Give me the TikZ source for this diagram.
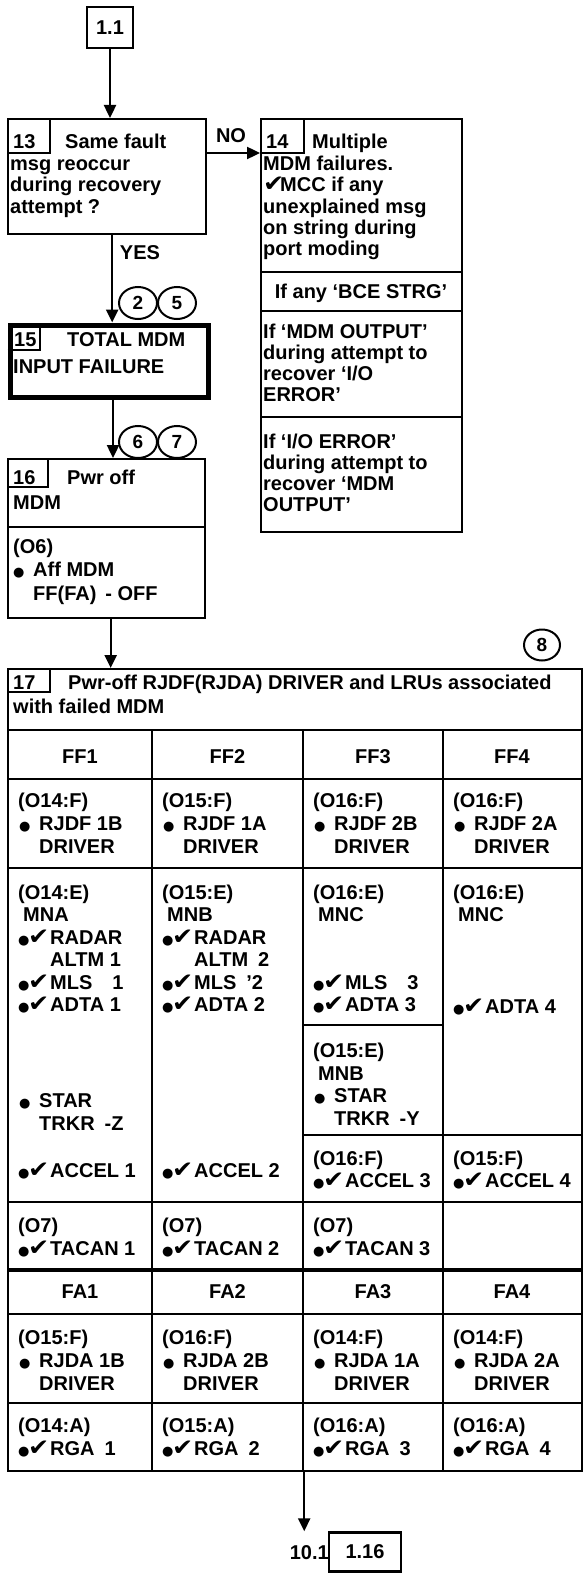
\documentclass[tikz,border=0pt]{standalone}
\usepackage{fontspec}
\usepackage{graphicx}
\setmainfont{Liberation Sans}
\newfontfamily\symf{DejaVu Sans}
\usetikzlibrary{arrows.meta,shapes.geometric}
\newcounter{ln}
\newcommand\Ln[3]{\stepcounter{ln}\node[lbl] (l\theln) at (#1,#2) {#3};}
\newcommand\Lc[3]{\stepcounter{ln}\node[lbl,anchor=base] (l\theln) at (#1,#2) {#3};}
\newcommand\ckg{\scalebox{1.1}[1.0]{\symf\mdseries\fontsize{23}{23}\selectfont ✔}}
\newcommand\ck{\makebox[17pt][l]{\ckg}}
\newcommand\bb{{\symf\mdseries\fontsize{13}{13}\selectfont ●}}
\newcommand\bbx{\makebox[20pt][l]{\bb}}
\newcommand\bc{\makebox[10pt][l]{\bb}\makebox[22pt][l]{\ckg}}
\tikzset{
  lbl/.style={anchor=base west, inner sep=0pt, font=\bfseries\fontsize{20}{22}\selectfont},
  bx/.style={draw, line width=2.4pt, anchor=north west, inner sep=0pt, font=\bfseries\fontsize{20}{22}\selectfont},
  arr/.style={line width=2.4pt, -{Triangle[length=13pt,width=12pt]}},
  circ/.style={ellipse, draw, line width=2pt, minimum width=38pt, minimum height=32pt, inner sep=0pt, font=\bfseries\fontsize{19}{19}\selectfont},
  ln/.style={line width=2.4pt},
  thk/.style={line width=4.8pt},
}
\begin{document}
\begin{tikzpicture}[x=1pt,y=-1pt]
\fill[white] (0,0) rectangle (583,1573);
\path[use as bounding box] (0,0) rectangle (583,1573);

% start connector
\node[bx, line width=2.6pt, anchor=center, minimum width=46pt, minimum height=41pt] (b11) at (110,27.5) {1.1};

% box 13
\node[bx, minimum width=198pt, minimum height=115pt] (b13) at (7,118) {};
\draw[ln] ([yshift=-35pt]b13.north west) -| ([xshift=43pt]b13.north west);
\Ln{13}{149}{13}
\Ln{65}{149}{Same fault}
\Ln{10}{171}{msg reoccur}
\Ln{10}{192}{during recovery}
\Ln{10}{213}{attempt ?}

% box 14
\node[bx, minimum width=201pt, minimum height=413pt] (b14) at (260,118) {};
\draw[ln] ([yshift=-35pt]b14.north west) -| ([xshift=44pt]b14.north west);
\draw[ln] (260,272) -- (461,272);
\draw[ln] (260,311) -- (461,311);
\draw[ln] (260,417) -- (461,417);
\Ln{266}{149}{14}
\Ln{312}{149}{Multiple}
\Ln{263}{171}{MDM failures.}
\Ln{263}{192}{\ck MCC if any}
\Ln{263}{213}{unexplained msg}
\Ln{263}{234}{on string during}
\Ln{263}{255}{port moding}
\Lc{361}{298}{If any ‘BCE STRG’}
\Ln{263}{338}{If ‘MDM OUTPUT’}
\Ln{263}{359}{during attempt to}
\Ln{263}{380}{recover ‘I/O}
\Ln{263}{401}{ERROR’}
\Ln{263}{448}{If ‘I/O ERROR’}
\Ln{263}{469}{during attempt to}
\Ln{263}{490}{recover ‘MDM}
\Ln{263}{511}{OUTPUT’}

% box 15
\node[bx, line width=5pt, minimum width=198pt, minimum height=72pt] (b15) at (7.5,322.5) {};
\draw[ln] ([yshift=-27.5pt]b15.north west) -| ([xshift=32.5pt]b15.north west);
\Ln{14}{346}{15}
\Ln{67}{346}{TOTAL MDM}
\Ln{13}{373}{INPUT FAILURE}

% box 16
\node[bx, minimum width=197pt, minimum height=159pt] (b16) at (7,458) {};
\draw[ln] ([yshift=-29pt]b16.north west) -| ([xshift=41pt]b16.north west);
\draw[ln] (7,527) -- (204,527);
\Ln{13}{484}{16}
\Ln{67}{484}{Pwr off}
\Ln{13}{509}{MDM}
\Ln{13}{553}{(O6)}
\Ln{13}{576}{\bbx Aff MDM}
\Ln{33}{600}{FF(FA) \,- OFF}

% circles
\node[circ] (c2) at (138,303) {2};
\node[circ] (c5) at (177,303) {5};
\node[circ] (c6) at (138,442) {6};
\node[circ] (c7) at (177,442) {7};
\node[circ, minimum width=36pt, minimum height=31pt] (c8) at (542,645) {8};

% table 17
\node[bx, minimum width=574pt, minimum height=802pt] (tbl) at (7,668) {};
\draw[ln] ([yshift=-24pt]tbl.north west) -| ([xshift=43pt]tbl.north west);
\Ln{13}{689}{17}
\Ln{68}{689}{Pwr-off RJDF(RJDA) DRIVER and LRUs associated}
\Ln{13}{713}{with failed MDM}

\foreach \yy in {730,779,868,1202,1314,1403} \draw[ln] (7,\yy) -- (581,\yy);
\draw[thk] (7,1270) -- (581,1270);
\foreach \xx in {152,303,443} \draw[ln] (\xx,730) -- (\xx,1470);
\draw[ln] (303,1025) -- (443,1025);
\draw[ln] (303,1135) -- (581,1135);

% headers
\Lc{80}{763}{FF1}
\Lc{227.5}{763}{FF2}
\Lc{373}{763}{FF3}
\Lc{512}{763}{FF4}

% RJDF row
\Ln{18}{807}{(O14:F)}  \Ln{19}{830}{\bbx RJDF 1B}  \Ln{39}{853}{DRIVER}
\Ln{162}{807}{(O15:F)} \Ln{163}{830}{\bbx RJDF 1A} \Ln{183}{853}{DRIVER}
\Ln{313}{807}{(O16:F)} \Ln{314}{830}{\bbx RJDF 2B} \Ln{334}{853}{DRIVER}
\Ln{453}{807}{(O16:F)} \Ln{454}{830}{\bbx RJDF 2A} \Ln{474}{853}{DRIVER}

% body FF1
\Ln{18}{899}{(O14:E)}
\Ln{23}{921.5}{MNA}
\Ln{18}{944}{\bc RADAR}
\Ln{50}{966.5}{ALTM 1}
\Ln{18}{989}{\bc MLS\quad 1}
\Ln{18}{1011.5}{\bc ADTA 1}
\Ln{19}{1107}{\bbx STAR}
\Ln{39}{1130}{TRKR\enspace -Z}
\Ln{18}{1177}{\bc ACCEL 1}
% body FF2
\Ln{162}{899}{(O15:E)}
\Ln{167}{921.5}{MNB}
\Ln{162}{944}{\bc RADAR}
\Ln{194}{966.5}{ALTM\enspace 2}
\Ln{162}{989}{\bc MLS\enspace ’2}
\Ln{162}{1011.5}{\bc ADTA 2}
\Ln{162}{1177}{\bc ACCEL 2}
% body FF3
\Ln{313}{899}{(O16:E)}
\Ln{318}{921.5}{MNC}
\Ln{313}{989}{\bc MLS\quad 3}
\Ln{313}{1011.5}{\bc ADTA 3}
\Ln{313}{1057}{(O15:E)}
\Ln{318}{1080}{MNB}
\Ln{314}{1102}{\bbx STAR}
\Ln{334}{1125}{TRKR\enspace -Y}
\Ln{313}{1165}{(O16:F)}
\Ln{313}{1187}{\bc ACCEL 3}
% body FF4
\Ln{453}{899}{(O16:E)}
\Ln{458}{921.5}{MNC}
\Ln{453}{1013}{\bc ADTA 4}
\Ln{453}{1165}{(O15:F)}
\Ln{453}{1187}{\bc ACCEL 4}
% TACAN
\Ln{18}{1232}{(O7)}  \Ln{18}{1255}{\bc TACAN 1}
\Ln{162}{1232}{(O7)} \Ln{162}{1255}{\bc TACAN 2}
\Ln{313}{1232}{(O7)} \Ln{313}{1255}{\bc TACAN 3}

% FA
\Lc{80}{1298}{FA1}
\Lc{227.5}{1298}{FA2}
\Lc{373}{1298}{FA3}
\Lc{512}{1298}{FA4}
\Ln{18}{1344}{(O15:F)}  \Ln{19}{1367}{\bbx RJDA 1B}  \Ln{39}{1390}{DRIVER}
\Ln{162}{1344}{(O16:F)} \Ln{163}{1367}{\bbx RJDA 2B} \Ln{183}{1390}{DRIVER}
\Ln{313}{1344}{(O14:F)} \Ln{314}{1367}{\bbx RJDA 1A} \Ln{334}{1390}{DRIVER}
\Ln{453}{1344}{(O14:F)} \Ln{454}{1367}{\bbx RJDA 2A} \Ln{474}{1390}{DRIVER}
\Ln{18}{1432}{(O14:A)}  \Ln{18}{1455}{\bc RGA\enspace 1}
\Ln{162}{1432}{(O15:A)} \Ln{162}{1455}{\bc RGA\enspace 2}
\Ln{313}{1432}{(O16:A)} \Ln{313}{1455}{\bc RGA\enspace 3}
\Ln{453}{1432}{(O16:A)} \Ln{453}{1455}{\bc RGA\enspace 4}

% end connector
\node[bx, anchor=center, minimum width=72pt, minimum height=39pt] (b116) at (365,1552) {1.16};
\node[lbl, anchor=base east] (t101) at (329,1559) {10.1};

% connectors
\draw[arr] (b11.south) -- (b11.south |- b13.north);
\draw[arr] ([yshift=-35pt]b13.north east) -- ([yshift=-35pt]b14.north west);
\draw[arr] ([xshift=5pt]b13.south) -- ([xshift=5pt]b13.south |- b15.north);
\draw[arr] ([xshift=4pt]b15.south) -- ([xshift=4pt]b15.south |- b16.north);
\draw[arr] ([xshift=4pt]b16.south) -- ([xshift=4pt]b16.south |- tbl.north);
\draw[arr] ([xshift=9pt]tbl.south) -- ([xshift=9pt]tbl.south |- b116.north);
\Lc{231}{143}{NO}
\Lc{140}{259}{YES}
\end{tikzpicture}
\end{document}
